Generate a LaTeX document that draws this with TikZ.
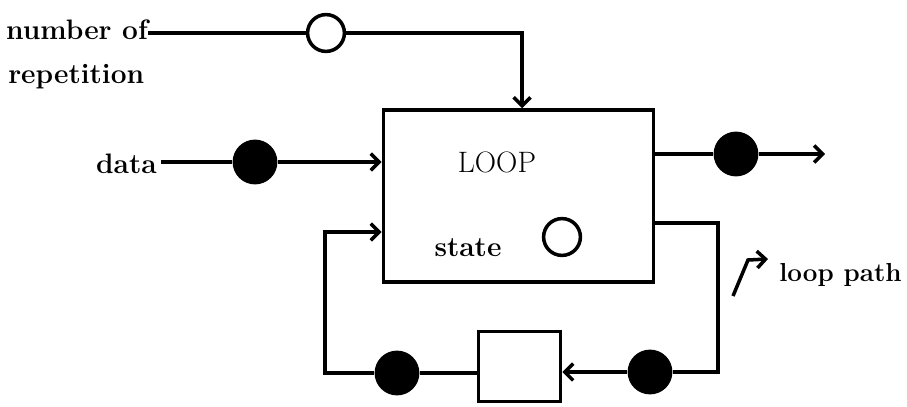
\documentclass[tikz,border=0pt]{standalone}
\usetikzlibrary{arrows.meta}

\tikzset{
    flow/.style={line width=2.5pt, -{Straight Barb[length=6pt,width=12pt,line width=2.5pt]}},
    wire/.style={line width=2.5pt},
    txt/.style={font=\fontsize{20}{22}\selectfont\bfseries, inner sep=0pt},
    fulltok/.style={circle, fill=black, minimum size=1.12cm, inner sep=0pt},
    emptytok/.style={circle, draw, line width=2.5pt, fill=white, minimum size=0.92cm, inner sep=0pt},
    blk/.style={draw, line width=2.5pt, inner sep=0pt}
}

\begin{document}
\begin{tikzpicture}[x=0.025cm, y=-0.025cm]
    \useasboundingbox (0,0) rectangle (907,407);

    % the loop actor
    \node[blk, minimum width=6.75cm, minimum height=4.3cm] (loop) at (518.5,196) {};
    \node[inner sep=0pt, font=\fontsize{21}{22}\selectfont] (name) at (497,162) {LOOP};
    \node[txt] (state) at (468,248) {state};
    \node[emptytok] (st) at (562,237) {};

    % delay on the loop path
    \node[blk, minimum width=2.05cm, minimum height=1.75cm] (dly) at (519.5,366.5) {};

    % tokens
    \node[emptytok] (tok0) at (326,33) {};
    \node[fulltok] (d1) at (255,162) {};
    \node[fulltok] (d2) at (736,154) {};
    \node[fulltok] (d3) at (650,372) {};
    \node[fulltok] (d4) at (397,373) {};

    % labels
    \node[txt, anchor=base east] (num) at (148,40) {number of};
    \node[txt, anchor=base west] (rep) at (8,83) {repetition};
    \node[txt, anchor=east] (data) at (157,164) {data};
    \node[txt, anchor=east, font=\fontsize{18.5}{20}\selectfont\bfseries] (lpath) at (902,275) {loop path};

    \coordinate (out) at (825,154);
    \coordinate (rt) at (718,223);
    \coordinate (lb) at (325,373);
    \coordinate (lt) at (325,232);
    \coordinate (pa) at (733,296);
    \coordinate (pb) at (748,260);
    \coordinate (pc) at (768,259);

    % connectors
    \draw[wire] (num.east |- tok0) -- (tok0);
    \draw[flow] (tok0) -| ([xshift=0.09cm]loop.north);
    \draw[flow] ([xshift=3pt]data.east |- d1) -- (d1) -- (loop.west |- d1);
    \draw[flow] (loop.east |- d2) -- (d2) -- (out);
    \draw[flow] (loop.east |- rt) -- (rt) |- (d3) -- (d3 -| dly.east);
    \draw[flow] (d4 -| dly.west) -- (d4) -- (lb) -- (lt) -- (loop.west |- lt);
    \draw[flow] (pa) -- (pb) -- (pc);
\end{tikzpicture}
\end{document}
